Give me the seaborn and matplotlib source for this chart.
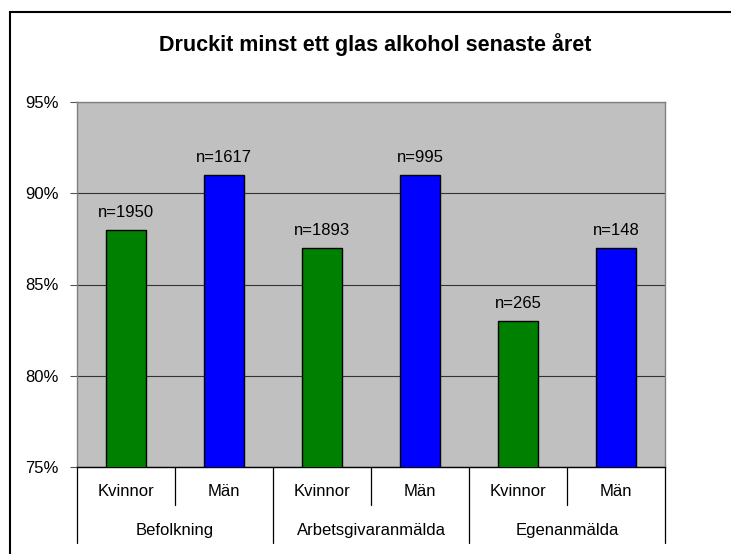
import numpy as np
import pandas as pd
import matplotlib
matplotlib.use("Agg")
import matplotlib.pyplot as plt
import matplotlib.ticker as mticker
import seaborn as sns

# ----------------------------
# Data
# ----------------------------
groups = ["Befolkning", "Arbetsgivaranmälda", "Egenanmälda"]
sexes = ["Kvinnor", "Män"]
values = [88, 91, 87, 91, 83, 87]          # percent
n_labels = ["n=1950", "n=1617", "n=1893", "n=995", "n=265", "n=148"]
yticks = [75, 80, 85, 90, 95]
title = "Druckit minst ett glas alkohol senaste året"

colors = {"Kvinnor": "#008000", "Män": "#0000FF"}

df = pd.DataFrame({
    "group": np.repeat(groups, len(sexes)),
    "sex": sexes * len(groups),
    "value": values,
})
df["key"] = df["group"] + " " + df["sex"]

# ----------------------------
# Style
# ----------------------------
sns.set_style("white")
plt.rcParams["font.family"] = ["Liberation Sans", "DejaVu Sans"]
plt.rcParams["text.color"] = "black"
plt.rcParams["ytick.color"] = "black"

fig = plt.figure(figsize=(7.31, 5.54), dpi=100)
ax = fig.add_axes([77 / 731, 87 / 554, 588 / 731, 365 / 554])

sns.barplot(data=df, x="key", y="value", hue="sex", palette=colors,
            saturation=1, dodge=False, width=0.41, edgecolor="black",
            linewidth=1, legend=False, ax=ax, zorder=3)

ax.set_facecolor("#C0C0C0")
ax.set_ylim(yticks[0], yticks[-1])
ax.set_yticks(yticks)
ax.yaxis.set_major_formatter(mticker.FuncFormatter(lambda v, p: f"{v:.0f}%"))
ax.yaxis.grid(True, color="#333333", lw=0.8)
ax.set_axisbelow(True)
ax.set_xlim(-0.5, len(values) - 0.5)
ax.set_xlabel("")
ax.set_ylabel("")
ax.set_xticks([])
ax.tick_params(axis="y", length=5, width=0.8, color="#555555", pad=8,
               labelsize=12, labelcolor="black", left=True)

for side in ["top", "right", "left"]:
    ax.spines[side].set_color("#808080")
    ax.spines[side].set_linewidth(1)
ax.spines["bottom"].set_color("black")
ax.spines["bottom"].set_linewidth(1)

# n= labels above bars
for i, (v, lab) in enumerate(zip(values, n_labels)):
    ax.annotate(lab, (i, v), xytext=(0, 9.5), textcoords="offset points",
                ha="center", va="baseline", fontsize=12, color="black")

# ----------------------------
# Two-level category axis
# ----------------------------
trans = ax.get_xaxis_transform()
for i, row in df.iterrows():
    ax.text(i, -0.068, row["sex"], transform=trans, ha="center",
            va="center", fontsize=12, color="black", clip_on=False)
for g, name in enumerate(groups):
    mid = g * len(sexes) + (len(sexes) - 1) / 2
    ax.text(mid, -0.173, name, transform=trans, ha="center", va="center",
            fontsize=12, color="black", clip_on=False)
    # separator inside group
    ax.plot([mid, mid], [0, -0.104], transform=trans, color="black",
            lw=0.9, clip_on=False)
for b in np.arange(len(groups) + 1) * len(sexes) - 0.5:
    ax.plot([b, b], [0, -0.208], transform=trans, color="black",
            lw=0.9, clip_on=False)

# title and outer frame (runs off the right and bottom edges)
fig.text(375 / 731, 1 - 45 / 554, title, ha="center", va="center",
         fontsize=15.5, fontweight="bold", color="black")
frame = plt.Rectangle((10 / 731, -0.05), 1.2, 1 - 12 / 554 + 0.05,
                      transform=fig.transFigure, fill=False,
                      edgecolor="black", lw=1.5)
fig.patches.append(frame)

fig.savefig("out.png", dpi=100)
